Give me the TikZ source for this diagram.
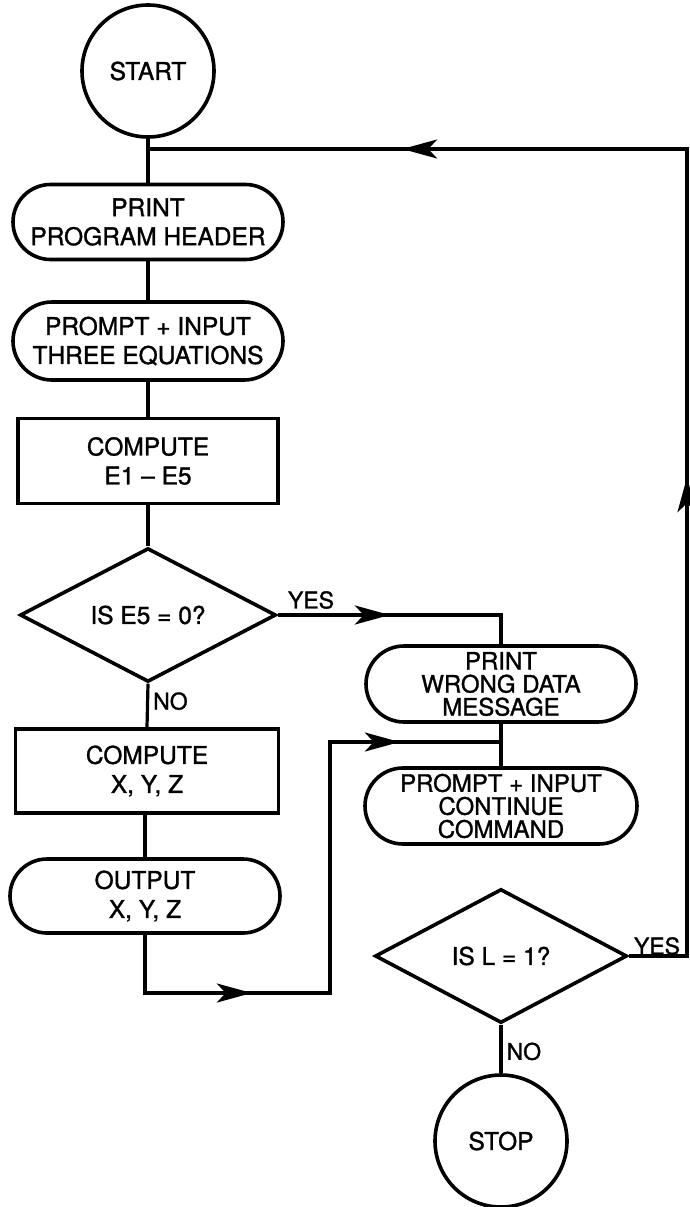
\documentclass[tikz,border=0pt]{standalone}
\usepackage{fontspec}
\setmainfont{TeX Gyre Heros}[FakeBold=1.2,AutoFakeBold=1.2]
\usetikzlibrary{shapes.geometric,shapes.misc,arrows.meta,decorations.markings}
\begin{document}
\begin{tikzpicture}[x=1pt,y=-1pt,
  every node/.style={font=\bfseries\fontsize{24.5}{29}\selectfont, align=center, inner sep=0pt},
  shapebase/.style={draw, line width=3.6pt},
  termcircle/.style={shapebase, circle, minimum size=132pt},
  stadium/.style={shapebase, rounded rectangle, minimum width=270pt, minimum height=76pt},
  tight/.style={font=\bfseries\fontsize{24}{23}\selectfont},
  procbox/.style={shapebase, rectangle, minimum width=260pt, minimum height=85pt},
  decision/.style={shapebase, diamond, minimum width=256pt, minimum height=128pt},
  conn/.style={line width=3.2pt},
  lbl/.style={font=\bfseries\fontsize{23}{23}\selectfont},
  tipmark/.tip={Stealth[length=35pt,width=19pt,inset=9pt]},
  arrowone/.style={postaction={decorate},decoration={markings,
      mark=at position #1 with {\arrow{tipmark}}}},
  arrowtwo/.style 2 args={postaction={decorate},decoration={markings,
      mark=at position #1 with {\arrow{tipmark}},
      mark=at position #2 with {\arrow{tipmark}}}}
]
\useasboundingbox (0,0) rectangle (689,1207);

% left column
\node[termcircle] (start) at (148,71) {START};
\node[stadium, minimum height=75pt] (ph) at (148,222) {PRINT\\PROGRAM HEADER};
\node[stadium, minimum height=78pt] (pi) at (148,341) {PROMPT + INPUT\\THREE EQUATIONS};
\node[procbox] (ce) at (148,461) {COMPUTE\\E1 -- E5};
\node[decision] (d1) at (148,615) {IS E5 = 0?};
\node[procbox, minimum width=263pt, minimum height=84pt] (cx) at (147,771) {COMPUTE\\X, Y, Z};
\node[stadium, minimum height=74pt] (out) at (145,896) {OUTPUT\\X, Y, Z};

% right column
\node[stadium, tight] (pw) at (501,684) {PRINT\\WRONG DATA\\MESSAGE};
\node[stadium, tight, minimum width=272pt] (pc) at (501,806) {PROMPT + INPUT\\CONTINUE\\COMMAND};
\node[decision, minimum width=252pt, minimum height=134pt] (d2) at (501,956) {IS L = 1?};
\node[termcircle] (stop) at (501,1141) {STOP};

% helper coordinates
\coordinate (j1) at (148,149);
\coordinate (r1) at (687,149);
\coordinate (b1) at (330,993);
\coordinate (m1) at (501,742);

% connectors
\draw[conn] (start.south) -- (ph.north);
\draw[conn] (ph.south) -- (pi.north);
\draw[conn] (pi.south) -- (ce.north);
\draw[conn] (ce.south) -- (d1.north);
\draw[conn] (d1.south) -- node[lbl, right=4pt, pos=0.4] (no1) {NO} (cx.north);
\draw[conn] (cx.south) -- (out.south |- cx.south) -- (out.north);
\draw[conn, arrowone=112pt] (d1.east) -| (pw.north);
\node[lbl, anchor=south] (yes1) at (311,609) {YES};
\draw[conn] (pw.south) -- (pc.north);
\draw[conn, arrowtwo={165pt}{564pt}] (out.south) |- (b1) |- (m1);
\draw[conn, arrowtwo={537pt}{1150pt}] (d2.east) -| (r1) -- (j1);
\node[lbl, anchor=south] (yes2) at (657,955) {YES};
\draw[conn] (d2.south) -- node[lbl, right=4pt, pos=0.55] (no2) {NO} (stop.north);
\end{tikzpicture}
\end{document}
